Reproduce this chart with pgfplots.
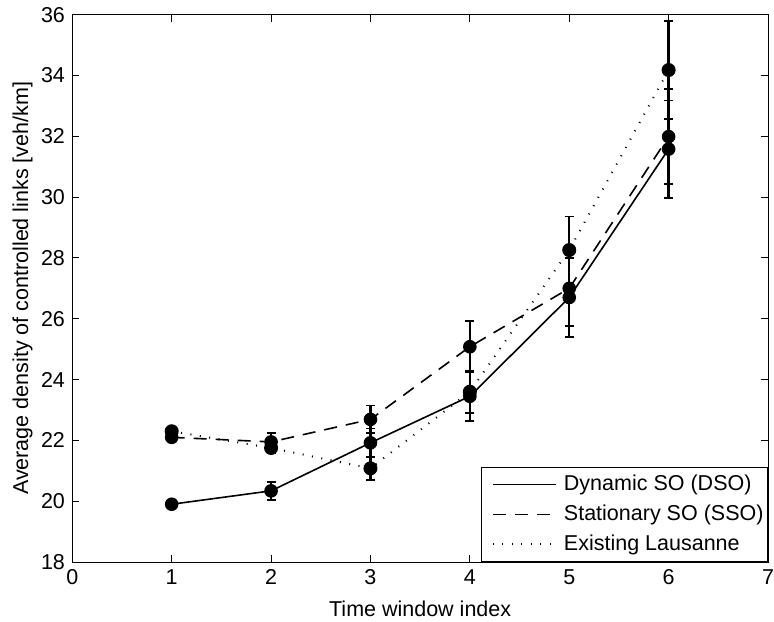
\documentclass[border=0pt]{standalone}
\usepackage{fontspec}
\setmainfont{Liberation Sans}
\usepackage{pgfplots}
\pgfplotsset{compat=1.18}
\usetikzlibrary{calc}
\begin{document}
\fontsize{21.5}{25}\selectfont
\begin{tikzpicture}
\begin{axis}[
 scale only axis, width=695.7pt, height=547.3pt,
 xmin=0, xmax=7, ymin=18, ymax=36,
 xtick={0,1,...,7}, ytick={18,20,...,36},
 tick align=inside, major tick length=7pt,
 axis line style={line width=1pt},
 every tick/.style={line width=1pt, black},
 /pgf/number format/assume math mode=true,
 ticklabel style={font=\fontsize{21.5}{25}\selectfont},
 label style={font=\fontsize{21.5}{25}\selectfont},
 xlabel={Time window index},
 ylabel={Average density of controlled links [veh/km]},
 xlabel style={yshift=-2pt},
 ylabel style={yshift=-6pt},
 legend style={at={(1,0)}, anchor=south east, draw=black, line width=1pt, fill=white,
   font=\fontsize{21.5}{25}\selectfont, inner xsep=2pt, inner ysep=6pt, row sep=7pt},
 legend cell align=left,
 legend image code/.code={\path[draw=none, fill=none] (0pt,0pt) -- (78pt,0pt); \draw[#1, mark=none] (9pt,0pt) -- (72pt,0pt);},
 every axis plot/.append style={
   error bars/y dir=both, error bars/y explicit,
   error bars/error mark=-,
   error bars/error bar style={line width=2.4pt, solid},
   error bars/error mark options={line width=1.8pt, mark size=4.5pt, black, solid, rotate=90}},
]
\addplot[black, line width=1.6pt, mark=*, mark size=6pt, mark options={solid}]
 table[x=x, y=y, y error=e] {
x y e
1 19.90 0.06
2 20.34 0.30
3 21.92 0.47
4 23.45 0.80
5 26.70 1.30
6 31.58 1.60
};
\addlegendentry{Dynamic SO (DSO)}
\addplot[black, line width=1.6pt, dash pattern=on 13pt off 9pt, mark=*, mark size=6pt, mark options={solid}]
 table[x=x, y=y, y error=e] {
x y e
1 22.10 0.10
2 21.95 0.28
3 22.69 0.46
4 25.08 0.85
5 27.00 1.25
6 31.99 1.57
};
\addlegendentry{Stationary SO (SSO)}
\addplot[black, line width=2pt, dash pattern=on 1pt off 8.5pt, mark=*, mark size=6pt, mark options={solid}]
 table[x=x, y=y, y error=e] {
x y e
1 22.30 0.12
2 21.75 0.18
3 21.08 0.37
4 23.60 0.70
5 28.26 1.10
6 34.18 1.60
};
\addlegendentry{Existing Lausanne}
\end{axis}
\pgfresetboundingbox
\path ($(current axis.south west)+(-72.3pt,-59pt)$) rectangle ($(current axis.north east)+(6pt,14.7pt)$);
\end{tikzpicture}
\end{document}
